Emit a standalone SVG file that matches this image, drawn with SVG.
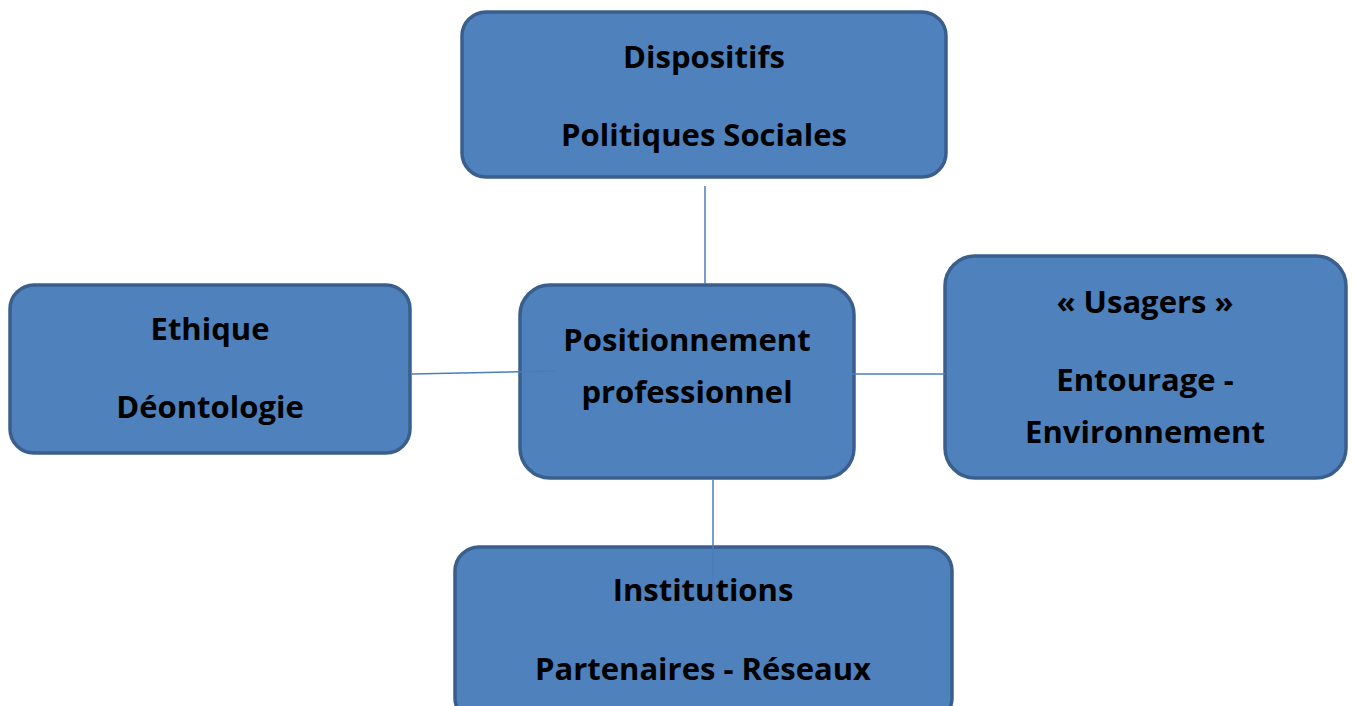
<svg xmlns="http://www.w3.org/2000/svg" width="1353" height="706" viewBox="0 0 1353 706">
<style>
.box{fill:#4F81BD;stroke:#3A5F8C;stroke-width:3.5}
.lbl{font-family:"Open Sans","Liberation Sans",sans-serif;font-weight:bold;font-size:31px;fill:#000;text-anchor:middle;font-variant-ligatures:none}
.con{stroke:#4A7EBB;stroke-width:1.5;fill:none}
</style>
<rect width="1353" height="706" fill="#fff"/>
<g id="n-dispositifs">
<rect class="box" x="462" y="12" width="484" height="165" rx="24"/>
<text class="lbl" x="704" y="68">Dispositifs</text>
<text class="lbl" x="704" y="146">Politiques Sociales</text>
</g>
<g id="n-ethique">
<rect class="box" x="10" y="285" width="400" height="168" rx="24"/>
<text class="lbl" x="210" y="340">Ethique</text>
<text class="lbl" x="210" y="418">Déontologie</text>
</g>
<g id="n-center">
<rect class="box" x="520" y="285" width="334" height="193" rx="30"/>
<text class="lbl" x="687" y="351">Positionnement</text>
<text class="lbl" x="687" y="403">professionnel</text>
</g>
<g id="n-usagers">
<rect class="box" x="945" y="256" width="401" height="222" rx="30"/>
<text class="lbl" x="1145" y="313">« Usagers »</text>
<text class="lbl" x="1145" y="391">Entourage -</text>
<text class="lbl" x="1145" y="443">Environnement</text>
</g>
<g id="n-institutions">
<rect class="box" x="455" y="547" width="497" height="175" rx="24"/>
<text class="lbl" x="703" y="601">Institutions</text>
<text class="lbl" x="703" y="680">Partenaires - Réseaux</text>
</g>
<g id="connectors">
<line class="con" x1="705" y1="186" x2="705" y2="284"/>
<line class="con" x1="412" y1="374" x2="556" y2="371"/>
<line class="con" x1="852" y1="374" x2="945" y2="374"/>
<line class="con" x1="713" y1="480" x2="713" y2="608"/>
</g>
</svg>
